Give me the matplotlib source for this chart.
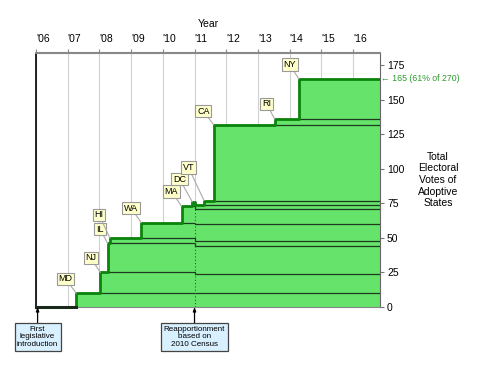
import matplotlib
matplotlib.use('Agg')
import matplotlib.pyplot as plt
import matplotlib.transforms as mtransforms

plt.rcParams['font.family'] = ['Liberation Sans', 'DejaVu Sans']

# --- data ---
states = ['MD', 'NJ', 'IL', 'HI', 'WA', 'MA', 'DC', 'VT', 'CA', 'RI', 'NY']
dates = [2007.27, 2008.03, 2008.26, 2008.33, 2009.32, 2010.59, 2010.93,
         2011.30, 2011.60, 2013.53, 2014.29]
ev_2000 = [10, 15, 21, 4, 11, 12, 3, 3, 55, 4, 31]   # before reapportionment
ev_2010 = [10, 14, 20, 4, 12, 11, 3, 3, 55, 4, 29]   # after 2010 census
label_x = [2006.93, 2007.73, 2008.02, 2007.99, 2009.0, 2010.27, 2010.53,
           2010.81, 2011.28, 2013.27, 2014.0]
label_y = [20.3, 35.5, 56.4, 66.6, 71.6, 83.6, 92.6, 100.9, 141.8, 146.9, 175.5]

first_intro = 2006.05
reapp = 2011.0
year_ticks = list(range(2006, 2017))
year_labels = ["'%02d" % (y % 100) for y in year_ticks]
y_ticks = [0, 25, 50, 75, 100, 125, 150, 175]

XMIN, XMAX = 2006.0, 2016.85
YMAX = 184

FILL = '#66e36b'
OUTLINE = '#0b840b'


def ev_at(i, t):
    return ev_2010[i] if t >= reapp else ev_2000[i]


breaks = sorted(set([XMIN] + dates + [reapp]))


def cum_series(upto, start):
    ts, vs = [], []
    for t in breaks:
        if t < start:
            continue
        ts.append(t)
        vs.append(sum(ev_at(j, t) for j in range(upto + 1) if dates[j] <= t))
    ts.append(XMAX)
    vs.append(vs[-1])
    return ts, vs


fig = plt.figure(figsize=(4.8, 3.71), dpi=100)
ax = fig.add_axes([36 / 480, 1 - 307 / 371, 344 / 480, (307 - 52.7) / 371])

# total area
tt, tv = cum_series(len(states) - 1, XMIN)
ax.fill_between(tt, 0, tv, step='post', color=FILL, lw=0, zorder=2)

# band separators
for i in range(len(states) - 1):
    ts, vs = cum_series(i, dates[i])
    ax.step(ts, vs, where='post', color='#1e3a1e', lw=0.9, zorder=3)

# top outline
ax.step(tt, tv, where='post', color=OUTLINE, lw=2, zorder=4)
# nothing adopted yet: dark baseline before the first state
ax.plot([XMIN, dates[0]], [0, 0], color='#1a2a1a', lw=2.2, zorder=5, clip_on=False)

# reapportionment dotted line
tot_reapp = sum(ev_at(j, reapp) for j in range(len(states)) if dates[j] <= reapp)
ax.vlines(reapp, 0, tot_reapp, colors='#1a6a1a', linestyles=(0, (1, 2)), lw=0.8, zorder=3)

# state labels
for i, s in enumerate(states):
    top = sum(ev_at(j, dates[i]) for j in range(i + 1))
    ax.annotate(s, xy=(dates[i], top), xytext=(label_x[i], label_y[i]),
                ha='center', va='center', fontsize=6.5, zorder=6,
                bbox=dict(boxstyle='square,pad=0.2', fc='#ffffcc', ec='#999999', lw=0.8),
                arrowprops=dict(arrowstyle='-', color='#aaaaaa', lw=0.8,
                                shrinkA=0, shrinkB=0))

# bottom notes
for x, txt in [(first_intro, 'First\nlegislative\nintroduction'),
               (reapp, 'Reapportionment\nbased on\n2010 Census')]:
    ax.annotate(txt, xy=(x, 0), xytext=(x, -21.7), ha='center', va='center',
                fontsize=5.8, linespacing=1.15, annotation_clip=False, zorder=6,
                bbox=dict(boxstyle='square,pad=0.3', fc='#d8f0ff', ec='#444444', lw=0.9),
                arrowprops=dict(arrowstyle='-|>,head_length=0.4,head_width=0.15',
                                color='black', lw=0.9, shrinkA=0, shrinkB=0))

# final total annotation
trans = mtransforms.blended_transform_factory(ax.transAxes, ax.transData)
ax.text(1.004, tv[-1], '\u2190 165 (61% of 270)', transform=trans, color='#2a9a2a',
        fontsize=6.3, va='center', ha='left')

# axes styling
ax.set_xlim(XMIN, XMAX)
ax.set_ylim(0, YMAX)
ax.xaxis.tick_top()
ax.xaxis.set_label_position('top')
ax.set_xticks(year_ticks)
ax.set_xticklabels(year_labels, ha='left', fontsize=7.5)
ax.set_xlabel('Year', fontsize=7.5, labelpad=5)
ax.yaxis.tick_right()
ax.set_yticks(y_ticks)
ax.tick_params(axis='y', labelsize=7.5, length=3, color='#777777', pad=2)
ax.tick_params(axis='x', length=3, color='#888888', pad=3)
ax.grid(axis='x', color='#d0d0d0', lw=0.8, zorder=0)
ax.set_axisbelow(True)

ax.spines['left'].set_color('black')
ax.spines['left'].set_linewidth(1.2)
ax.spines['top'].set_color('#888888')
ax.spines['top'].set_linewidth(1.5)
ax.spines['right'].set_color('#666666')
ax.spines['bottom'].set_color('#888888')

fig.text(438 / 480, 1 - 180 / 371, 'Total\nElectoral\nVotes of\nAdoptive\nStates',
         ha='center', va='center', fontsize=7.5, linespacing=1.2)

fig.savefig('out.png', dpi=100)
